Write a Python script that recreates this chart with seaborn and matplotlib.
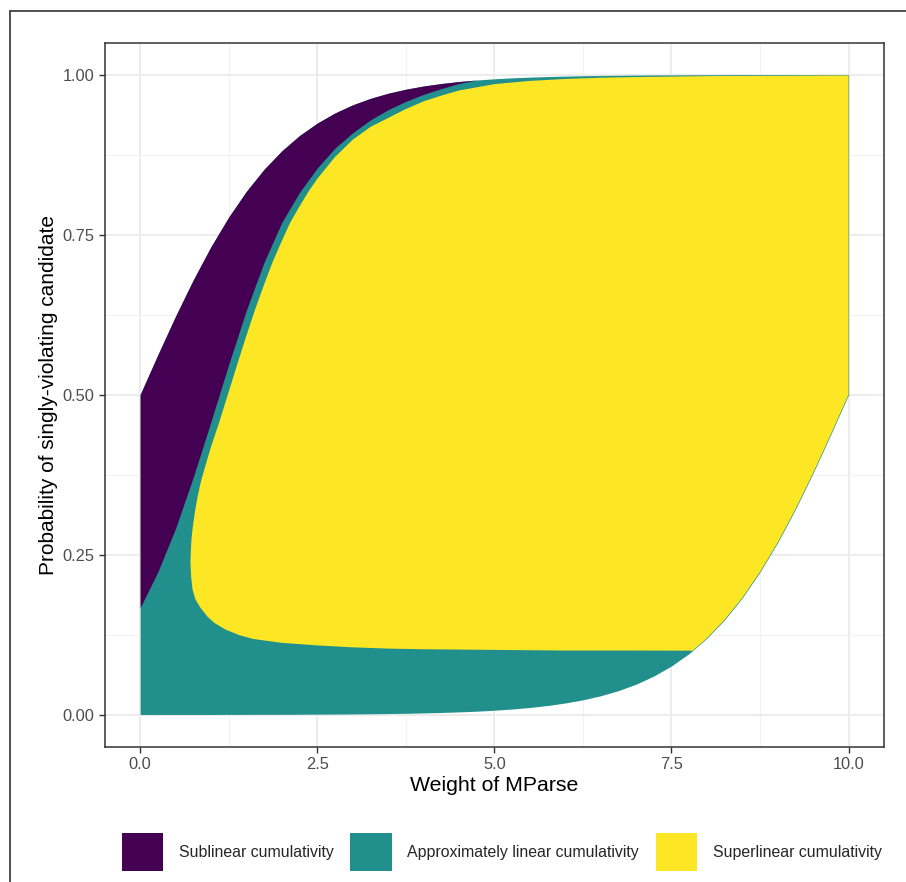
import matplotlib
matplotlib.use("Agg")
import matplotlib.pyplot as plt
from matplotlib.patches import Patch
from matplotlib.lines import Line2D
from matplotlib.ticker import MultipleLocator
import seaborn as sns

# weight of MParse, sampled along the x axis
weight = [0.0, 0.25, 0.5, 0.75, 1.0, 1.25, 1.5, 1.75, 2.0, 2.25, 2.5, 2.75,
          3.0, 3.25, 3.5, 3.75, 4.0, 4.25, 4.5, 4.75, 5.0, 5.25, 5.5, 5.75,
          6.0, 6.25, 6.5, 6.75, 7.0, 7.25, 7.5, 7.75, 8.0, 8.25, 8.5, 8.75,
          9.0, 9.25, 9.5, 9.75, 10.0]

# top and bottom edge of the whole coloured area
upper_edge = [0.5, 0.5622, 0.6225, 0.6792, 0.7311, 0.7773, 0.8176, 0.852, 0.8808,
              0.9047, 0.9241, 0.9399, 0.9526, 0.9627, 0.9707, 0.977, 0.982, 0.9859,
              0.989, 0.9914, 0.9933, 0.9948, 0.9959, 0.9968, 0.9975, 0.9981, 0.9985,
              0.9988, 0.9991, 0.9993, 0.9994, 0.9996, 0.9997, 0.9997, 0.9998, 0.9998,
              0.9999, 0.9999, 0.9999, 0.9999, 1.0]
lower_edge = [0.0, 0.0001, 0.0001, 0.0001, 0.0001, 0.0002, 0.0002, 0.0003, 0.0003,
              0.0004, 0.0006, 0.0007, 0.0009, 0.0012, 0.0015, 0.0019, 0.0025, 0.0032,
              0.0041, 0.0052, 0.0067, 0.0086, 0.011, 0.0141, 0.018, 0.023, 0.0293,
              0.0373, 0.0474, 0.0601, 0.0759, 0.0953, 0.1192, 0.148, 0.1824, 0.2227,
              0.2689, 0.3208, 0.3775, 0.4378, 0.5]

# lower edge of the sublinear area (weight 0 .. 4.75)
sub_lower = [0.167, 0.223, 0.291, 0.371, 0.458, 0.547, 0.632, 0.707, 0.769, 0.816,
             0.854, 0.885, 0.909, 0.929, 0.945, 0.958, 0.969, 0.978, 0.986, 0.9914]

# outline of the superlinear area
super_x = [0.71, 0.715, 0.725, 0.745, 0.775, 0.81, 0.86, 0.93, 1.0, 1.12, 1.25, 1.37,
           1.5, 1.62, 1.75, 1.87, 2.0, 2.12, 2.25, 2.37, 2.5, 2.75, 3.0, 3.25, 3.5,
           3.75, 4.0, 4.25, 4.5, 4.75, 5.0, 5.5, 6.0, 6.5, 7.0, 8.0, 9.0, 10.0,
           10.0, 9.75, 9.5, 9.25, 9.0, 8.75, 8.5, 8.25, 8.0, 7.8,
           7.0, 6.0, 5.0, 4.0, 3.5, 3.0, 2.5, 2.0, 1.6, 1.4, 1.2, 1.05, 0.95, 0.85,
           0.78, 0.74, 0.72]
super_y = [0.237, 0.255, 0.275, 0.295, 0.318, 0.34, 0.365, 0.392, 0.418, 0.458, 0.504,
           0.547, 0.592, 0.632, 0.672, 0.707, 0.74, 0.769, 0.794, 0.816, 0.837, 0.871,
           0.898, 0.918, 0.932, 0.946, 0.958, 0.967, 0.975, 0.98, 0.985, 0.99, 0.993,
           0.995, 0.996, 0.9975, 0.998, 0.9985,
           0.5, 0.4378, 0.3775, 0.3208, 0.2689, 0.2227, 0.1824, 0.148, 0.1192, 0.0998,
           0.1, 0.1, 0.101, 0.102, 0.103, 0.105, 0.108, 0.112, 0.118, 0.124, 0.133,
           0.143, 0.153, 0.167, 0.18, 0.195, 0.215]

labels = ['Sublinear cumulativity', 'Approximately linear cumulativity',
          'Superlinear cumulativity']
colors = ['#440154', '#21908C', '#FDE725']

sns.set_theme(style="whitegrid")
plt.rcParams['font.family'] = ['Liberation Sans', 'DejaVu Sans']

fig = plt.figure(figsize=(9.06, 8.82), dpi=100)
ax = fig.add_axes([0.1156, 0.1536, 0.8601, 0.7982])

n_sub = len(sub_lower)
ax.fill_between(weight, lower_edge, upper_edge, color=colors[1], lw=0)
ax.fill_between(weight[:n_sub], sub_lower, upper_edge[:n_sub], color=colors[0], lw=0)
ax.fill(super_x, super_y, color=colors[2], lw=0)

ax.set_xlim(-0.5, 10.5)
ax.set_ylim(-0.05, 1.05)
ax.set_xticks([0, 2.5, 5, 7.5, 10])
ax.set_xticklabels(['0.0', '2.5', '5.0', '7.5', '10.0'])
ax.set_yticks([0, 0.25, 0.5, 0.75, 1.0])
ax.set_yticklabels(['0.00', '0.25', '0.50', '0.75', '1.00'])
ax.xaxis.set_minor_locator(MultipleLocator(1.25))
ax.yaxis.set_minor_locator(MultipleLocator(0.125))
ax.set_axisbelow(True)
ax.grid(which='major', color='#EBEBEB', lw=1.3)
ax.grid(which='minor', color='#F2F2F2', lw=0.8)
for s in ax.spines.values():
    s.set_color('#333333')
    s.set_linewidth(1.1)
ax.tick_params(which='major', length=4.5, width=1.0, color='#333333',
               labelsize=11.8, labelcolor='#4D4D4D', pad=3,
               bottom=True, left=True)
ax.tick_params(which='minor', length=0)

ax.set_xlabel('Weight of MParse', fontsize=15.3, color='black', labelpad=3)
ax.set_ylabel('Probability of singly-violating candidate', fontsize=15,
              color='black', labelpad=3)

handles = [Patch(facecolor=c, edgecolor='none') for c in colors]
fig.legend(handles, labels, loc='center', bbox_to_anchor=(0.554, 0.034), ncol=3,
           frameon=False, fontsize=11.4, handlelength=2.6, handleheight=3.3,
           handletextpad=1.0, columnspacing=1.05, borderpad=0)

# outer frame of the figure
fig.add_artist(Line2D([9.5 / 906, 9.5 / 906], [0, 1 - 10.5 / 882],
                      transform=fig.transFigure, color='#333333', lw=1.2))
fig.add_artist(Line2D([9.5 / 906, 1], [1 - 10.5 / 882, 1 - 10.5 / 882],
                      transform=fig.transFigure, color='#333333', lw=1.2))

plt.savefig('out.png', dpi=100)
